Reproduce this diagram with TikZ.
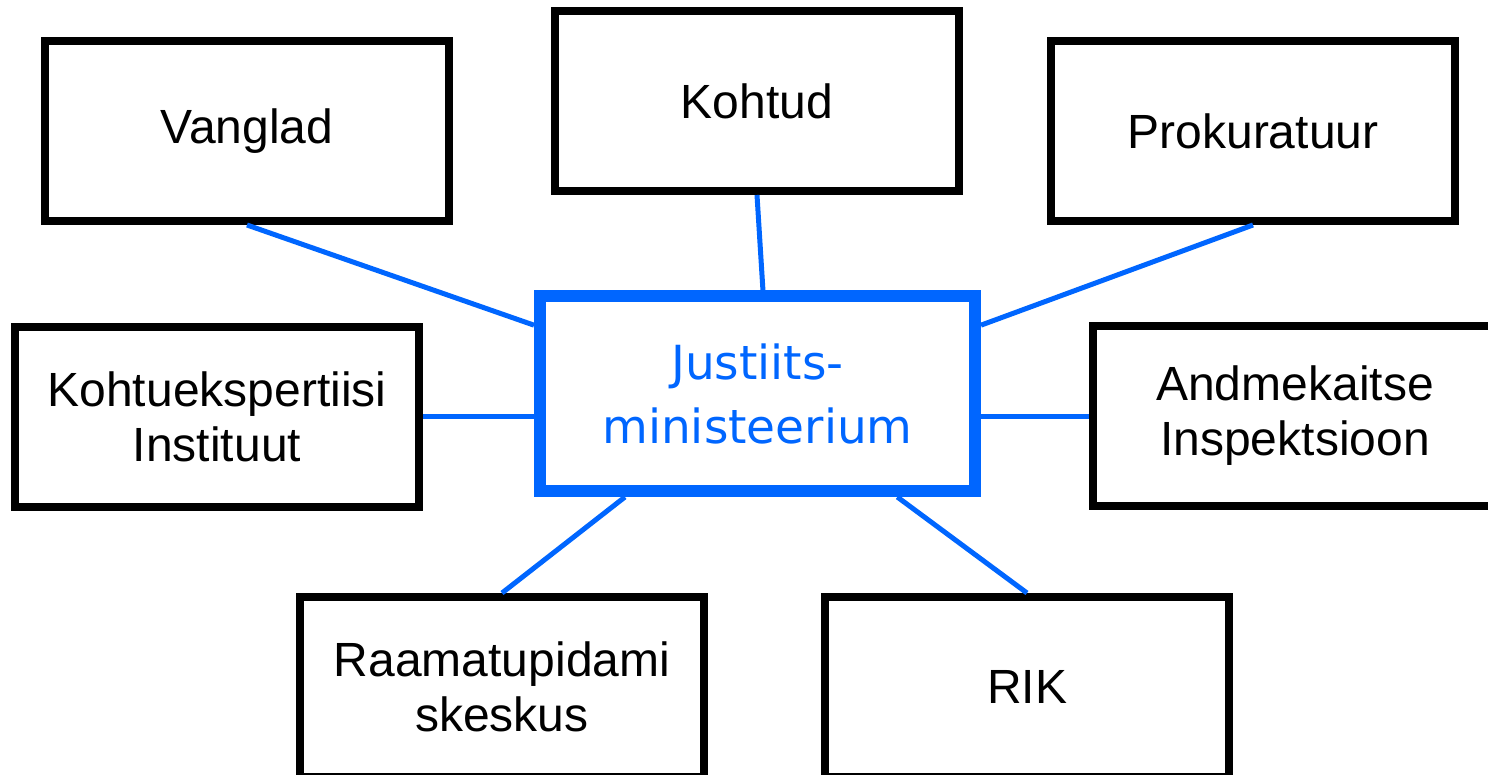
\documentclass[tikz,border=0pt]{standalone}
\usepackage{fontspec}
\setmainfont{Liberation Sans}
\newfontfamily\jmfont{DejaVu Sans}
\usepackage{xcolor}
\definecolor{jmblue}{HTML}{0066FF}
\usetikzlibrary{positioning}

\begin{document}
\begin{tikzpicture}[
  x=0.5pt, y=-0.5pt,
  box/.style={draw, line width=4pt, minimum width=202pt, minimum height=90pt, align=center,
    font=\fontsize{24}{27.5}\selectfont},
  hub/.style={draw=jmblue, line width=6pt, minimum width=217.5pt, minimum height=97.5pt, align=center,
    text=jmblue, font=\jmfont\fontsize{23.5}{32}\selectfont},
  link/.style={draw=jmblue, line width=2.5pt}
]
\useasboundingbox (0,0) rectangle (1488,775);
\clip (0,0) rectangle (1488,775);

\node[hub] (jm) at (757.5,393.5) {Justiits-\\ministeerium};

\node[box] (vang) at (247,131) {Vanglad};
\node[box] (koh) at (757,101) {Kohtud};
\node[box] (prok) at (1253,131) {Prokuratuur};
\node[box] (ke) at (217,416.5) {Kohtuekspertiisi\\Instituut};
\node[box] (ak) at (1295,416) {Andmekaitse\\Inspektsioon};
\node[box] (rp) at (502,687) {Raamatupidami\\skeskus};
\node[box] (rik) at (1027,687) {RIK};

\draw[link] (vang.south) -- (jm.163);
\draw[link] (koh.south) -- (jm.87);
\draw[link] (prok.south) -- (jm.17);
\draw[link] (ke.east) -- (ke.east -| jm.west);
\draw[link] (ak.west) -- (ak.west -| jm.east);
\draw[link] (rp.north) -- (jm);
\draw[link] (rik.north) -- (jm);
\end{tikzpicture}
\end{document}
